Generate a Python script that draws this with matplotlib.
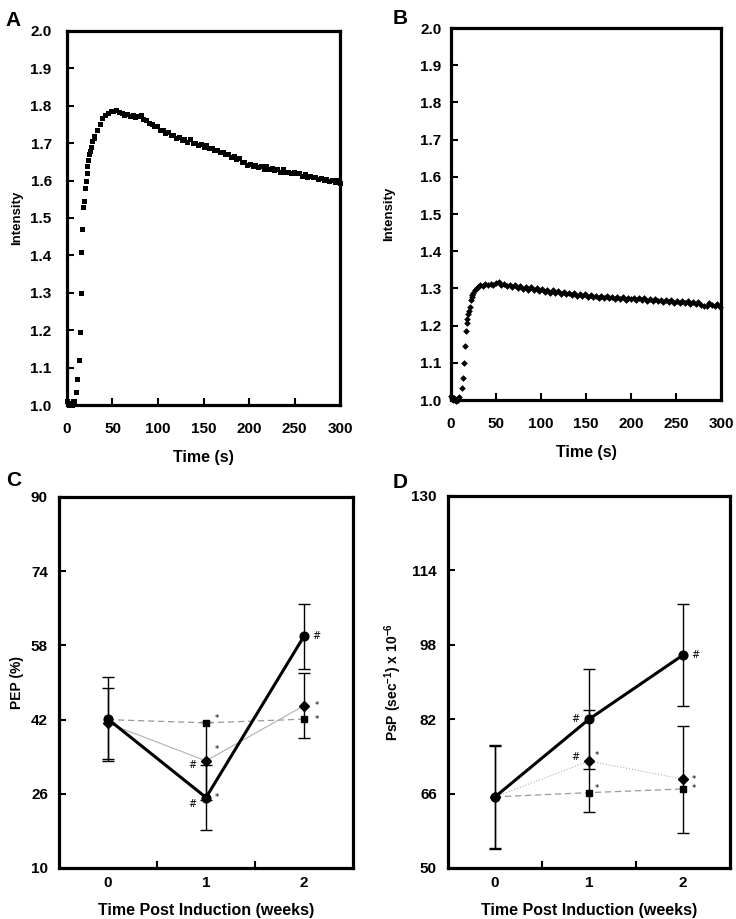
import numpy as np
import matplotlib
matplotlib.use("Agg")
import matplotlib.pyplot as plt

plt.rcParams['font.family'] = ['Liberation Sans', 'DejaVu Sans']
plt.rcParams['font.weight'] = 'bold'
plt.rcParams['mathtext.fontset'] = 'custom'
plt.rcParams['mathtext.bf'] = 'Liberation Sans:bold'
plt.rcParams['mathtext.rm'] = 'Liberation Sans:bold'
plt.rcParams['mathtext.default'] = 'bf'

# Panel A: intensitet over tid (kvadrater)
tid_a = [0, 1, 2, 3, 4, 5, 6, 7, 8, 10, 11.5, 13, 14.3, 15.2, 15.6, 16.5, 18, 18.8, 20, 20.8,
         21.6, 22.3, 23.4, 24.5, 25.5, 26.4, 28, 29.5, 30, 33, 36, 39, 42, 45, 48, 51, 54,
         57, 60, 63, 66, 69, 72, 75, 78, 81, 84, 87, 90, 93, 96, 99, 102, 105, 108, 111,
         114, 117, 120, 123, 126, 129, 132, 135, 138, 141, 144, 147, 150, 153, 156, 159,
         162, 165, 168, 171, 174, 177, 180, 183, 186, 189, 192, 195, 198, 201, 204, 207,
         210, 213, 216, 219, 222, 225, 228, 231, 234, 237, 240, 243, 246, 249, 252, 255,
         258, 261, 264, 267, 270, 273, 276, 279, 282, 285, 288, 291, 294, 297, 300]
int_a = [1.01, 1.005, 1.0, 1.0, 1.005, 1.0, 1.005, 1.01, 1.01, 1.035, 1.07, 1.12, 1.196,
         1.30, 1.41, 1.47, 1.53, 1.545, 1.58, 1.60, 1.62, 1.64, 1.655, 1.67, 1.68, 1.69,
         1.705, 1.715, 1.72, 1.735, 1.752, 1.766, 1.776, 1.781, 1.785, 1.787, 1.788,
         1.784, 1.782, 1.776, 1.778, 1.773, 1.776, 1.770, 1.772, 1.775, 1.765, 1.762,
         1.754, 1.752, 1.745, 1.745, 1.735, 1.735, 1.728, 1.730, 1.722, 1.722, 1.715,
         1.716, 1.708, 1.710, 1.703, 1.710, 1.700, 1.700, 1.695, 1.697, 1.690, 1.696,
         1.688, 1.688, 1.681, 1.682, 1.676, 1.676, 1.670, 1.671, 1.664, 1.666, 1.657,
         1.660, 1.651, 1.650, 1.643, 1.645, 1.640, 1.643, 1.637, 1.640, 1.632, 1.638,
         1.631, 1.633, 1.628, 1.630, 1.624, 1.630, 1.622, 1.624, 1.620, 1.622, 1.619,
         1.620, 1.613, 1.618, 1.610, 1.612, 1.609, 1.610, 1.604, 1.607, 1.602, 1.604,
         1.600, 1.602, 1.596, 1.601, 1.594]

# Panel B: intensitet over tid (ruter)
tid_b = [0, 1, 2, 3, 4, 5, 6, 7, 8, 9, 11.8, 13.7, 14.8, 15.5, 16.3, 17.4, 18, 19, 20, 21,
         22, 23, 23.7, 24.8, 26.5, 28.5, 30, 32, 35, 38, 41, 44, 47, 50, 53, 56, 59, 62,
         65, 68, 71, 74, 77, 80, 83, 86, 89, 92, 95, 98, 101, 104, 107, 110, 113, 116,
         119, 122, 125, 128, 131, 134, 137, 140, 143, 146, 149, 152, 155, 158, 161, 164,
         167, 170, 173, 176, 179, 182, 185, 188, 191, 194, 197, 200, 203, 206, 209, 212,
         215, 218, 221, 224, 227, 230, 233, 236, 239, 242, 245, 248, 251, 254, 257, 260,
         263, 266, 269, 272, 275, 278, 281, 284, 287, 290, 293, 296, 299]
int_b = [1.01, 1.005, 1.0, 1.005, 1.0, 0.998, 1.0, 1.003, 1.0, 1.008, 1.033, 1.06, 1.10,
         1.145, 1.185, 1.207, 1.218, 1.23, 1.24, 1.25, 1.27, 1.278, 1.283, 1.288, 1.295,
         1.30, 1.305, 1.31, 1.306, 1.312, 1.309, 1.313, 1.308, 1.314, 1.318, 1.310, 1.313,
         1.306, 1.310, 1.303, 1.308, 1.301, 1.306, 1.298, 1.304, 1.297, 1.303, 1.296,
         1.301, 1.294, 1.298, 1.291, 1.296, 1.289, 1.295, 1.288, 1.292, 1.286, 1.291,
         1.284, 1.288, 1.283, 1.287, 1.281, 1.285, 1.279, 1.284, 1.278, 1.283, 1.276,
         1.281, 1.275, 1.280, 1.274, 1.279, 1.273, 1.278, 1.272, 1.277, 1.271, 1.276,
         1.270, 1.275, 1.271, 1.274, 1.269, 1.274, 1.268, 1.273, 1.267, 1.272, 1.266,
         1.271, 1.265, 1.270, 1.264, 1.269, 1.263, 1.268, 1.262, 1.267, 1.261, 1.266,
         1.260, 1.265, 1.259, 1.264, 1.258, 1.263, 1.256, 1.253, 1.252, 1.260, 1.255,
         1.253, 1.257, 1.250]

# Panel C og D: uker etter induksjon
uker = [0, 1, 2]
pep_sirkel = [42.1, 25.2, 60.0]
pep_sirkel_feil = [9.0, 7.0, 7.0]
pep_rute = [41.2, 33.1, 45.0]
pep_rute_feil = [7.7, 8.4, 7.0]
pep_kvadrat = [42.0, 41.3, 42.1]

psp_sirkel = [65.3, 82.0, 95.8]
psp_sirkel_feil = [11.2, 10.8, 10.9]
psp_rute = [65.3, 73.0, 69.1]
psp_rute_feil = [11.0, 11.0, 11.5]
psp_kvadrat = [65.3, 66.2, 67.0]

# merker: (indeks, symbol, dx, dy) i punkter
pep_sirkel_merk = [(1, '#', -10, -5), (1, '*', 8, 0), (2, '#', 9, 0)]
pep_rute_merk = [(1, '#', -10, -3), (1, '*', 8, 8), (2, '*', 9, 0)]
pep_kvadrat_merk = [(1, '*', 8, 3), (2, '*', 9, 0)]
psp_sirkel_merk = [(1, '#', -10, 0), (2, '#', 9, 0)]
psp_rute_merk = [(1, '#', -10, 3), (1, '*', 6, 4), (2, '*', 8, 0)]
psp_kvadrat_merk = [(1, '*', 6, 3), (2, '*', 8, 0)]

fig = plt.figure(figsize=(7.36, 9.19), dpi=100)
ax_a = fig.add_axes([0.091, 0.5593, 0.371, 0.407])
ax_b = fig.add_axes([0.6128, 0.5647, 0.3668, 0.4048])
ax_c = fig.add_axes([0.0802, 0.0555, 0.3995, 0.4037])
ax_d = fig.add_axes([0.6087, 0.0555, 0.3832, 0.4048])


def ramme(ax, ypad, xpad):
    for s in ax.spines.values():
        s.set_linewidth(2.3)
    ax.tick_params(which='both', direction='in', length=5, width=1.5,
                   top=False, right=False, labelsize=11)
    ax.tick_params(axis='y', pad=ypad)
    ax.tick_params(axis='x', pad=xpad)
    for lab in ax.get_xticklabels() + ax.get_yticklabels():
        lab.set_fontweight('bold')


# A og B
for ax, t, v, mk, ms, ypad, ylpad in [(ax_a, tid_a, int_a, 's', 3.6, 11, 5),
                                      (ax_b, tid_b, int_b, 'D', 3.4, 7, 18)]:
    ax.plot(t, v, linestyle='none', marker=mk, markersize=ms, color='black',
            markeredgewidth=0, clip_on=False)
    ax.set_xlim(0, 300)
    ax.set_ylim(1.0, 2.0)
    ax.set_xticks(np.arange(0, 301, 50))
    ax.set_yticks(np.arange(1.0, 2.01, 0.1))
    ax.set_yticklabels([f"{y:.1f}" for y in np.arange(1.0, 2.01, 0.1)])
    ax.set_xlabel("Time (s)", fontsize=11.5, fontweight='bold', labelpad=10)
    ax.set_ylabel("Intensity", fontsize=9.5, fontweight='bold', labelpad=ylpad)
    ramme(ax, ypad, 12)


def panel(ax, sirkel, sirkel_feil, rute, rute_feil, kvadrat, merk, ylim, yticks, ylabel):
    ax.errorbar(uker, rute, yerr=rute_feil, fmt='none', ecolor='black', elinewidth=1.0,
                capsize=4, capthick=1.0, zorder=2)
    ax.errorbar(uker, sirkel, yerr=sirkel_feil, fmt='none', ecolor='black', elinewidth=1.0,
                capsize=4, capthick=1.0, zorder=2)
    ax.plot(uker, kvadrat, color='#999999', linewidth=0.9, linestyle=(0, (5, 3)),
            marker='s', markersize=4.6, markerfacecolor='black', markeredgecolor='black', zorder=3)
    ax.plot(uker, rute, color='#b0b0b0', linewidth=0.8,
            linestyle='-' if ylabel.startswith('PEP') else ':',
            marker='D', markersize=5.5, markerfacecolor='black', markeredgecolor='black', zorder=4)
    ax.plot(uker, sirkel, color='black', linewidth=2.2,
            marker='o', markersize=6.3, markerfacecolor='black', markeredgecolor='black', zorder=5)
    for serie, liste in zip([sirkel, rute, kvadrat], merk):
        for i, sym, dx, dy in liste:
            ax.annotate(sym, (uker[i], serie[i]), xytext=(dx, dy), textcoords='offset points',
                        ha='center', va='center', fontsize=7 if sym == '#' else 6,
                        fontweight='normal', family='DejaVu Sans')
    ax.set_xlim(-0.5, 2.5)
    ax.set_ylim(*ylim)
    ax.set_xticks(uker)
    ax.set_xticks([0.5, 1.5], minor=True)
    ax.set_yticks(yticks)
    ax.set_xlabel("Time Post Induction (weeks)", fontsize=11.5, fontweight='bold', labelpad=9)
    ax.set_ylabel(ylabel, fontsize=10, fontweight='bold', labelpad=5)
    ramme(ax, 8, 6)
    ax.tick_params(axis='x', which='major', length=0)


panel(ax_c, pep_sirkel, pep_sirkel_feil, pep_rute, pep_rute_feil, pep_kvadrat,
      [pep_sirkel_merk, pep_rute_merk, pep_kvadrat_merk],
      (10, 90), [10, 26, 42, 58, 74, 90], "PEP (%)")
panel(ax_d, psp_sirkel, psp_sirkel_feil, psp_rute, psp_rute_feil, psp_kvadrat,
      [psp_sirkel_merk, psp_rute_merk, psp_kvadrat_merk],
      (50, 130), [50, 66, 82, 98, 114, 130], r"PsP (sec$^{-1}$) x 10$^{-6}$")

for bokstav, x, y in [("A", 0.008, 0.988), ("B", 0.533, 0.99), ("C", 0.008, 0.487), ("D", 0.533, 0.485)]:
    fig.text(x, y, bokstav, fontsize=15, fontweight='bold', va='top')

plt.savefig("out.png", dpi=100)
